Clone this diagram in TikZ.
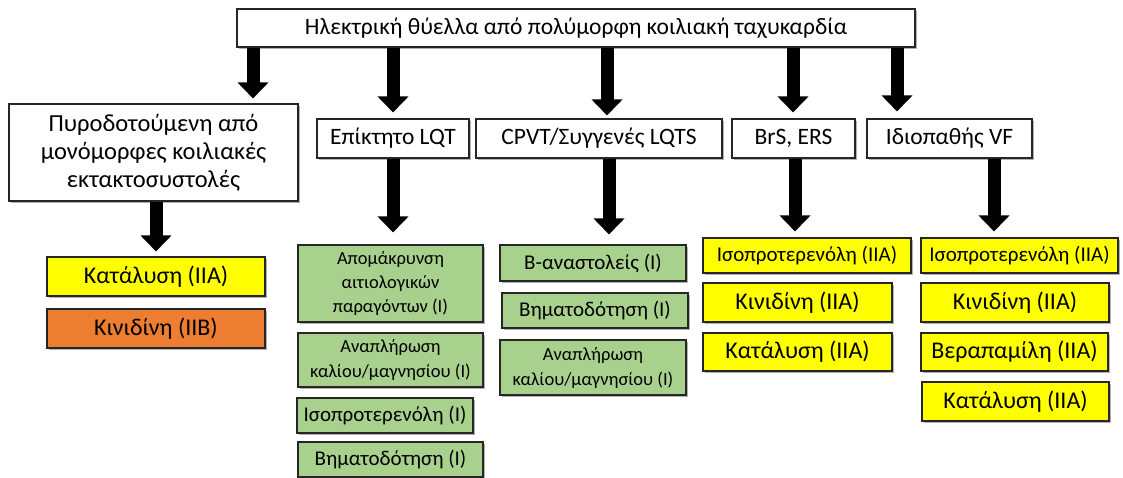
\documentclass[tikz,border=0pt]{standalone}
\usepackage{fontspec}
\setmainfont{Carlito}
\usetikzlibrary{arrows.meta,shadows}
\definecolor{yel}{HTML}{FFFF00}
\definecolor{org}{HTML}{ED7D31}
\definecolor{grn}{HTML}{A9D18E}
\definecolor{edge}{HTML}{262626}
\tikzset{
  box/.style={draw=edge, line width=1.1pt, inner sep=0pt, align=center,
    font=\fontsize{24}{28}\selectfont,
    drop shadow={shadow xshift=1.8pt, shadow yshift=-2.2pt, opacity=0.3, fill=black}},
  big/.style={font=\fontsize{23.5}{28}\selectfont},
  mid/.style={font=\fontsize{21}{25}\selectfont},
  iso/.style={font=\fontsize{21}{25}\selectfont},
  small/.style={font=\fontsize{18.5}{24}\selectfont},
  wb/.style={box, fill=white},
  yb/.style={box, fill=yel},
  ob/.style={box, fill=org},
  gb/.style={box, fill=grn},
  arr/.style={draw=black, line width=13pt, -{Triangle[width=30pt,length=16pt]}},
}
\begin{document}
\begin{tikzpicture}[x=1pt,y=-1pt]
\useasboundingbox (0,0) rectangle (1123,477);
% level 0
\node[wb, big, minimum width=678pt, minimum height=38pt] (top) at (576,28) {Ηλεκτρική θύελλα από πολύμορφη κοιλιακή ταχυκαρδία};
% level 1
\node[wb, font=\fontsize{24.5}{28}\selectfont, minimum width=289pt, minimum height=97pt] (pvc) at (153.5,152.5) {Πυροδοτούμενη από\\μονόμορφες κοιλιακές\\εκτακτοσυστολές};
\node[wb, big, minimum width=152pt, minimum height=39pt] (lqt) at (393,138.5) {Επίκτητο LQT};
\node[wb, big, minimum width=246pt, minimum height=39pt] (cpvt) at (599,138.5) {CPVT/Συγγενές LQTS};
\node[wb, big, minimum width=123pt, minimum height=39pt] (brs) at (793.5,138.5) {BrS, ERS};
\node[wb, big, minimum width=165pt, minimum height=39pt] (ivf) at (949.5,138.5) {Ιδιοπαθής VF};
% column pvc
\node[yb, minimum width=218pt, minimum height=39pt] (k1) at (156,276.5) {Κατάλυση (IIA)};
\node[ob, minimum width=218pt, minimum height=39pt] (k2) at (156,328.5) {Κινιδίνη (IIB)};
% column lqt
\node[gb, small, minimum width=185pt, minimum height=77pt] (g1) at (390.5,283.5) {Απομάκρυνση\\αιτιολογικών\\παραγόντων (I)};
\node[gb, font=\fontsize{18.5}{25}\selectfont, minimum width=185pt, minimum height=54pt] (g2) at (390.5,360) {Αναπλήρωση\\καλίου/μαγνησίου (I)};
\node[gb, mid, minimum width=176pt, minimum height=35pt] (g3) at (385,415.5) {Ισοπροτερενόλη (I)};
\node[gb, mid, minimum width=185pt, minimum height=35pt] (g4) at (390.5,459.5) {Βηματοδότηση (I)};
% column cpvt
\node[gb, mid, minimum width=186pt, minimum height=36pt] (c1) at (593,263) {Β-αναστολείς (I)};
\node[gb, mid, minimum width=186pt, minimum height=35pt] (c2) at (595,310.5) {Βηματοδότηση (I)};
\node[gb, font=\fontsize{18.5}{25}\selectfont, minimum width=186pt, minimum height=55pt] (c3) at (593,367.5) {Αναπλήρωση\\καλίου/μαγνησίου (I)};
% column brs
\node[yb, iso, minimum width=208pt, minimum height=35pt] (b1) at (807,255.5) {Ισοπροτερενόλη (IIA)};
\node[yb, minimum width=189pt, minimum height=39pt] (b2) at (797.5,302.5) {Κινιδίνη (IIA)};
\node[yb, minimum width=189pt, minimum height=38pt] (b3) at (797.5,352) {Κατάλυση (IIA)};
% column ivf
\node[yb, iso, minimum width=197pt, minimum height=35pt] (i1) at (1019.5,255.5) {Ισοπροτερενόλη (IIA)};
\node[yb, minimum width=188pt, minimum height=39pt] (i2) at (1015,302.5) {Κινιδίνη (IIA)};
\node[yb, minimum width=187pt, minimum height=38pt] (i3) at (1014.5,352) {Βεραπαμίλη (IIA)};
\node[yb, minimum width=187pt, minimum height=39pt] (i4) at (1015.5,401.5) {Κατάλυση (IIA)};
% arrow columns
\coordinate (xa) at (253,0);
\coordinate (xb) at (393,0);
\coordinate (xc) at (607,0);
\coordinate (xd) at (793,0);
\coordinate (xe) at (897,0);
\coordinate (xf) at (156,0);
\coordinate (xg) at (609,0);
\coordinate (xh) at (795,0);
\coordinate (xi) at (994,0);
% arrows from the top box
\draw[arr, shorten >=5pt] (top.south -| xa) -- (pvc.north -| xa);
\draw[arr, shorten >=6pt] (top.south -| xb) -- (lqt.north -| xb);
\draw[arr, shorten >=3pt] (top.south -| xc) -- (cpvt.north -| xc);
\draw[arr, shorten >=6pt] (top.south -| xd) -- (brs.north -| xd);
\draw[arr, shorten >=7pt] (top.south -| xe) -- (ivf.north -| xe);
% arrows to the treatment columns
\draw[arr, shorten >=5pt] (pvc.south -| xf) -- (k1.north -| xf);
\draw[arr, shorten >=12pt] (lqt.south -| xb) -- (g1.north -| xb);
\draw[arr, shorten >=10pt] (cpvt.south -| xg) -- (c1.north -| xg);
\draw[arr, shorten >=6pt] (brs.south -| xh) -- (b1.north -| xh);
\draw[arr, shorten >=6pt] (ivf.south -| xi) -- (i1.north -| xi);
\end{tikzpicture}
\end{document}
